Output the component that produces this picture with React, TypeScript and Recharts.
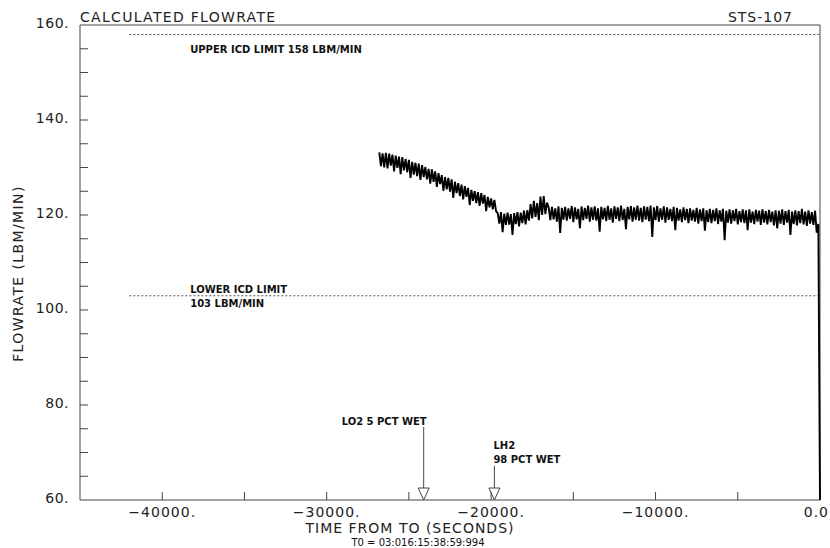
import { LineChart, Line, XAxis, YAxis, ReferenceLine, ReferenceDot } from "recharts";

const FONT = "DejaVu Sans";
const INK = "#222";
const AXIS = "#444";

// flowrate trace, one sample every 100 s starting at T-26800 s
const SAMPLE_START = -26800;
const SAMPLE_STEP = 100;
const flowrate: number[] = [
  // slow decline
  133.2, 130.3, 133.0, 130.0, 133.1, 129.8, 132.9, 130.4, 132.7, 129.2,
  132.5, 129.9, 132.3, 128.6, 132.2, 129.4, 131.8, 129.0, 131.6, 127.8,
  131.2, 128.5, 131.0, 128.2, 130.8, 127.4, 130.5, 128.0, 130.1, 127.5,
  129.7, 126.6, 129.6, 127.0, 129.2, 125.9, 128.8, 126.5, 128.4, 125.1,
  128.0, 125.4, 127.8, 124.9, 127.5, 123.6, 127.0, 124.6, 126.7, 124.0,
  126.4, 123.3, 126.1, 123.8, 125.7, 122.1, 125.3, 123.0, 125.0, 122.5,
  124.8, 121.9, 124.6, 122.4, 124.2, 120.8, 123.8, 121.6, 123.5, 121.2,
  123.2, 120.8,
  // trough
  120.4, 118.2, 120.6, 116.4, 120.3, 117.9, 120.5, 118.0, 120.2, 115.8,
  120.4, 118.1, 120.6, 117.6, 120.5, 118.3, 120.9, 118.0, 121.0,
  // bump
  118.8, 122.3, 119.3, 123.0, 119.6, 122.5, 118.9, 123.9, 120.0, 124.0,
  120.2, 122.6,
  // flat
  121.6, 118.9, 121.7, 119.1, 121.4, 118.6, 121.8, 116.2, 121.5, 119.0,
  121.7, 118.8, 121.4, 119.2, 121.9, 118.5, 121.6, 119.1, 121.3, 117.2,
  121.8, 118.9, 121.5, 119.2, 122.0, 118.6, 121.6, 119.0, 121.8, 118.8,
  121.4, 116.5, 121.7, 119.1, 121.5, 118.7, 121.9, 119.0, 121.4, 118.4,
  121.8, 119.2, 121.6, 118.7, 122.0, 118.9, 121.3, 117.0, 121.7, 119.1,
  121.9, 118.6, 121.6, 119.0, 122.0, 118.8, 121.5, 118.5, 121.8, 119.0,
  121.7, 118.7, 122.0, 115.4, 121.6, 118.9, 121.9, 118.6, 121.4, 119.0,
  121.8, 118.4, 121.6, 119.0, 121.3, 118.7, 121.7, 116.8, 121.5, 118.8,
  121.2, 118.5, 121.6, 118.9, 121.3, 118.3, 121.4, 118.8, 121.1, 118.6,
  121.5, 118.2, 121.2, 118.7, 121.4, 116.7, 121.0, 118.5, 121.3, 118.3,
  121.1, 118.7, 121.4, 118.1, 121.0, 118.6, 121.3, 114.7, 120.9, 118.4,
  121.2, 118.2, 121.0, 118.7, 121.3, 118.0, 120.8, 118.5, 121.2, 118.3,
  121.0, 116.8, 121.2, 118.4, 120.7, 118.1, 121.1, 118.6, 120.9, 117.9,
  121.2, 118.4, 120.8, 118.0, 121.1, 118.5, 120.7, 117.8, 121.0, 117.2,
  120.9, 118.2, 121.2, 117.9, 120.8, 118.4, 121.1, 115.8, 120.7, 118.1,
  121.0, 117.8, 120.8, 118.3, 121.3, 118.0, 120.7, 117.7, 121.0, 118.2,
  120.6, 117.9, 120.9, 116.3, 118.1,
  // T0
  60,
];

const xTicks = [-45000, -40000, -35000, -30000, -25000, -20000, -15000, -10000, -5000, 0];
const yTicks = [60, 65, 70, 75, 80, 85, 90, 95, 100, 105, 110, 115, 120, 125, 130, 135, 140, 145, 150, 155, 160];

const UPPER_LIMIT = 158;
const LOWER_LIMIT = 103;
const LIMIT_START = -42000;
const LIMIT_TEXT_X = -38300;

const data = flowrate.map((v, i) => ({ t: SAMPLE_START + i * SAMPLE_STEP, flow: v }));

const XTick = (props: any) => {
  const { x, y, payload } = props;
  const v = payload.value as number;
  const mark = v !== -45000 && v !== 0;
  const label = v % 10000 === 0;
  const text = v === 0 ? "0.0" : `\u2212${Math.abs(v)}.`;
  return (
    <g>
      {mark && <line x1={x} x2={x} y1={y} y2={y - 8} stroke={AXIS} />}
      {label && (
        <text
          x={v === 0 ? x + 9 : x}
          y={y + 17}
          textAnchor={v === 0 ? "end" : "middle"}
          fontFamily={FONT}
          fontSize={14}
          letterSpacing={1}
          fill={INK}
        >
          {text}
        </text>
      )}
    </g>
  );
};

const YTick = (props: any) => {
  const { x, y, payload } = props;
  const v = payload.value as number;
  const mark = v !== 60 && v !== 160;
  const label = v % 20 === 0;
  return (
    <g>
      {mark && <line x1={x} x2={x + 8} y1={y} y2={y} stroke={AXIS} />}
      {label && (
        <text x={x - 11} y={y + 3} textAnchor="end" fontFamily={FONT} fontSize={14} letterSpacing={0.5} fill={INK}>
          {`${v}.`}
        </text>
      )}
    </g>
  );
};

const smallText = (lines: string[], anchor: "start" | "end", dx: number) => (p: any) => (
  <g>
    {lines.map((s, i) => (
      <text
        key={i}
        x={p.cx + dx}
        y={p.cy + i * 14}
        textAnchor={anchor}
        fontFamily={FONT}
        fontSize={10}
        fontWeight="bold"
        fill="#111"
      >
        {s}
      </text>
    ))}
  </g>
);

const triangle = (p: any) => (
  <polygon
    points={`${p.cx - 5.5},${p.cy - 12} ${p.cx + 5.5},${p.cy - 12} ${p.cx},${p.cy}`}
    fill="#fff"
    stroke={AXIS}
  />
);

const TitleLabel = (p: any) => {
  const vb = p.viewBox;
  return (
    <g>
      <text x={vb.x} y={vb.y - 3} fontFamily={FONT} fontSize={14} letterSpacing={1.3} fill={INK}>
        CALCULATED FLOWRATE
      </text>
      <text x={vb.x + vb.width - 27} y={vb.y - 3} textAnchor="end" fontFamily={FONT} fontSize={14} letterSpacing={1} fill={INK}>
        STS-107
      </text>
    </g>
  );
};

const XLabel = (p: any) => {
  const vb = p.viewBox;
  const cx = vb.x + 330;
  return (
    <g>
      <text x={cx} y={vb.y + 33} textAnchor="middle" fontFamily={FONT} fontSize={14} letterSpacing={1} fill={INK}>
        TIME FROM TO (SECONDS)
      </text>
      <text x={cx + 8} y={vb.y + 46} textAnchor="middle" fontFamily={FONT} fontSize={10} fill="#111">
        T0 = 03:016:15:38:59:994
      </text>
    </g>
  );
};

const YLabel = (p: any) => {
  const vb = p.viewBox;
  const cx = vb.x + 23;
  const cy = vb.y + vb.height / 2 + 11;
  return (
    <text
      x={cx}
      y={cy}
      transform={`rotate(-90 ${cx} ${cy})`}
      textAnchor="middle"
      fontFamily={FONT}
      fontSize={14}
      letterSpacing={1.4}
      fill={INK}
    >
      FLOWRATE (LBM/MIN)
    </text>
  );
};

export default function App() {
  return (
    <div style={{ position: "absolute", left: 0, top: 0, width: 830, height: 548, background: "#fff" }}>
      <LineChart width={830} height={548} data={data} margin={{ top: 25, right: 10, bottom: 0, left: 0 }}>
        <XAxis
          dataKey="t"
          type="number"
          domain={[-45000, 0]}
          ticks={xTicks}
          interval={0}
          height={48}
          tickSize={0}
          tickMargin={0}
          tickLine={false}
          stroke={AXIS}
          tick={<XTick />}
          label={XLabel}
        />
        <YAxis
          type="number"
          domain={[60, 160]}
          ticks={yTicks}
          interval={0}
          width={80}
          tickSize={0}
          tickMargin={0}
          tickLine={false}
          stroke={AXIS}
          tick={<YTick />}
          label={YLabel}
        />
        <ReferenceLine y={160} stroke={AXIS} label={TitleLabel} />
        <ReferenceLine x={0} stroke={AXIS} />
        <ReferenceLine
          segment={[{ x: LIMIT_START, y: UPPER_LIMIT }, { x: 0, y: UPPER_LIMIT }]}
          stroke="#555"
          strokeDasharray="2 2"
        />
        <ReferenceLine
          segment={[{ x: LIMIT_START, y: LOWER_LIMIT }, { x: 0, y: LOWER_LIMIT }]}
          stroke="#555"
          strokeDasharray="2 2"
        />
        <ReferenceDot x={LIMIT_TEXT_X} y={154.1} r={0} shape={smallText(["UPPER ICD LIMIT 158 LBM/MIN"], "start", 0)} />
        <ReferenceDot x={LIMIT_TEXT_X} y={103.6} r={0} shape={smallText(["LOWER ICD LIMIT", "103 LBM/MIN"], "start", 0)} />

        <ReferenceLine segment={[{ x: -24100, y: 75.4 }, { x: -24100, y: 62.5 }]} stroke={AXIS} />
        <ReferenceDot x={-24100} y={60} r={0} shape={triangle} />
        <ReferenceDot x={-24100} y={75.8} r={0} shape={smallText(["LO2 5 PCT WET"], "end", 3)} />

        <ReferenceLine segment={[{ x: -19800, y: 67.2 }, { x: -19800, y: 62.5 }]} stroke={AXIS} />
        <ReferenceDot x={-19800} y={60} r={0} shape={triangle} />
        <ReferenceDot x={-19800} y={70.7} r={0} shape={smallText(["LH2", "98 PCT WET"], "start", -1)} />

        <Line
          type="linear"
          dataKey="flow"
          stroke="#000"
          strokeWidth={1.9}
          dot={false}
          isAnimationActive={false}
        />
      </LineChart>
    </div>
  );
}
